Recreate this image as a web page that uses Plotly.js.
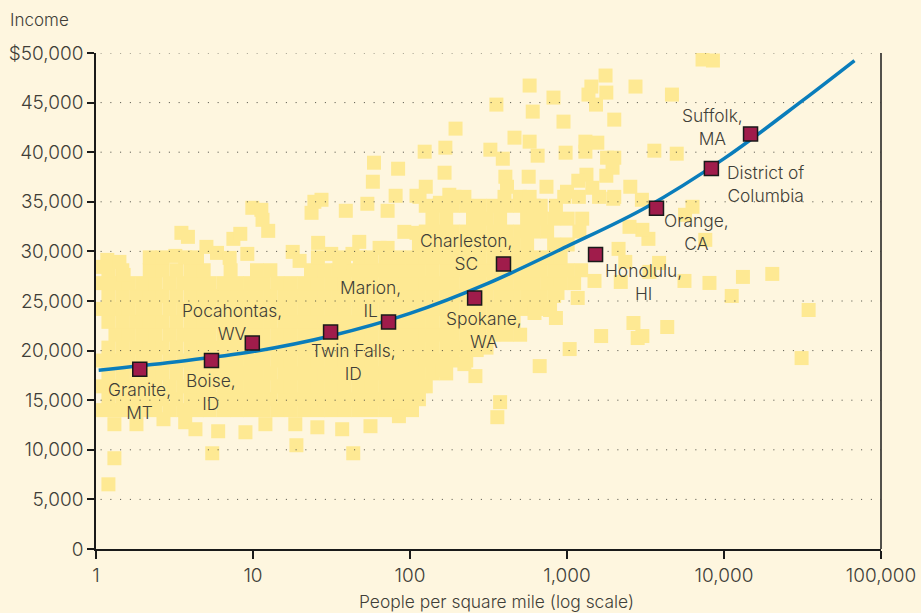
<!DOCTYPE html>
<html><head><meta charset="utf-8">
<script src="https://cdn.plot.ly/plotly-3.0.1.min.js"></script>
<style>html,body{margin:0;padding:0;background:#FEF6DF}#chart{width:921px;height:613px}</style>
</head><body><div id="chart"></div>
<script>
const xTickVals=[1,10,100,1000,10000,100000];
const xTickText=['1','10','100','1,000','10,000','100,000'];
const yTickVals=[0,5000,10000,15000,20000,25000,30000,35000,40000,45000,50000];
const yTickText=['0','5,000','10,000','15,000','20,000','25,000','30,000','35,000','40,000','45,000','$50,000'];

// Counties in the dense part of the cloud, grouped by income level: densities per income
const row14000=[1.1,1.33,1.62,1.98,2.4,2.95,3.6,4.4,5.3,6.5,7.9,9.6,11.7,14.3,17.4,21.2,25.9,31.5,38.4,46.8,57,69.5,84.7,103];
const row15100=[1.2,1.47,1.8,2.2,2.65,3.25,4,4.85,5.9,7.2,8.7,10.6,12.9,15.8,19.2,23.4,28.6,34.8,42.4,51.7,63,76.8,93.6,114];
const row16400=[1.1,1.33,1.62,1.98,2.4,2.95,3.6,4.4,5.3,6.5,7.9,9.6,11.7,14.3,17.4,21.2,25.9,31.5,38.4,46.8,57,69.5,84.7,103,126];
const row17700=[1.2,1.47,1.8,2.2,2.65,3.25,4,4.85,5.9,7.2,8.7,10.6,12.9,15.8,19.2,23.4,28.6,34.8,42.4,51.7,63,76.8,93.6,114,139,170];
const row19000=[1.1,1.33,1.62,1.98,2.4,2.95,3.6,4.4,5.3,6.5,7.9,9.6,11.7,14.3,17.4,21.2,25.9,31.5,38.4,46.8,57,69.5,84.7,103,126,153,187,228];
const row20300=[1.2,1.47,1.8,2.2,2.65,3.25,4,4.85,5.9,7.2,8.7,10.6,12.9,15.8,19.2,23.4,28.6,34.8,42.4,51.7,63,76.8,93.6,114,139,170,207,252,307];
const row21600=[1.33,1.62,1.98,2.4,2.95,3.6,4.4,5.3,6.5,7.9,9.6,11.7,14.3,17.4,21.2,25.9,31.5,38.4,46.8,57,69.5,84.7,103,126,153,187,228,278,339,413,503];
const row22900=[1.2,1.47,1.8,2.2,2.65,3.25,4,4.85,5.9,7.2,8.7,10.6,12.9,15.8,19.2,23.4,28.6,34.8,42.4,51.7,63,76.8,93.6,114,139,170,207,252,307,375,457];
const row24200=[1.1,1.33,1.62,1.98,2.4,2.95,3.6,4.4,5.3,6.5,7.9,9.6,11.7,14.3,17.4,21.2,25.9,31.5,38.4,46.8,57,69.5,84.7,103,126,153,187,228,278,339,413,503,613,747];
const row25500=[1.2,1.47,1.8,2.2,2.65,3.25,4,4.85,5.9,7.2,8.7,10.6,12.9,15.8,19.2,23.4,28.6,34.8,42.4,51.7,63,76.8,93.6,114,139,170,207,252,307,375,457,557,680,828];
const row26800=[1.1,1.33,1.62,1.98,2.4,2.95,3.6,4.4,5.3,6.5,7.9,9.6,11.7,14.3,17.4,21.2,25.9,31.5,38.4,46.8,57,69.5,84.7,103,126,153,187,228,278,339,413,503,613,747,911,1110];
const row28100=[1.2,1.47,2.2,2.65,3.25,4,4.85,7.2,10.6,12.9,23.4,28.6,34.8,42.4,51.7,63,76.8,93.6,114,139,170,207,252,307,375,457,557,680,828,1010,1230];
const row29400=[2.2,2.65,3.7,4.4,25.9,38,48,57,70,84.7,103,126,153,187,228,278,339,413,503,613,747,911];
const row30700=[114,139,170,207,252,307,375,457,557,828,1010];
const row32000=[126,153,187,228,278,339,413,503,613,747,1200];
const row33300=[139,170,252,307,375,557,680,828,1010,1250];
const row34600=[126,153,187,228,278,339,413,503,613,680,850];
const row35500=[115,192,222,400,500,578,960,1190,1600,2000];
const denseIncomes=[14000,15100,16400,17700,19000,20300,21600,22900,24200,25500,26800,28100,29400,30700,32000,33300,34600,35500];
const denseRows=[row14000,row15100,row16400,row17700,row19000,row20300,row21600,row22900,row24200,row25500,row26800,row28100,row29400,row30700,row32000,row33300,row34600,row35500];

// Counties along the edges of the cloud and the scattered ones
const edgeDensity=[1.31,1.81,2.69,3.7,4.3,6.0,8.95,12.0,18.6,25.7,37,56,85,118,162,1.31,1.2,5.5,18.9,43.5,
195,166,124,168,59,84,58,126,81,53.5,110,72,39,27.3,24.6,23.6,178,155,9.9,11.3,11.5,12.5,3.5,3.85,7.5,8.3,26,47.5,92,110,17.9,5.05,3.2,9.2,31.5,64,72,1.18,1.41,1.5,1.1,5.9,7.1,19.8,43,35.5,
7300,8500,1760,1430,1780,1370,1530,578,2730,4660,820,355,605,950,2000,463,578,1310,1560,325,390,650,980,3600,5000,1310,1800,2000,1950,1780,1330,1180,1450,405,570,415,740,2530,1000,1970,3000,6300,5650,7600,3300,3020,2500,2130,2350,3860,2200,3350,5600,8080,13200,20300,11200,34600,621,780,850,2650,4350,1650,2820,3020,1040,31200,670,261,222,266,375,360,1497,1170,870];
const edgeIncome=[12580,12580,13085,12780,12075,11870,11770,12580,12580,12270,12075,12380,13390,16420,18030,9150,6520,9650,10460,9650,
42375,37931,40052,40456,38941,38335,37022,36517,35608,34800,35608,34093,34093,35204,35002,33891,35709,34900,34396,34194,33184,32073,31871,31467,31265,31770,30861,30962,31972,31871,29952,30457,29548,29750,29750,30356,30356,29144,28942,27629,28437,29851,29346,29044,29750,28841,
49344,49243,47728,46617,46011,45809,44799,46718,46617,45809,45506,44799,44092,43082,43284,41466,41062,41062,40961,40254,39345,39648,39951,40153,39850,40052,39446,39446,38436,37628,37729,37123,36416,37527,37527,36517,36517,36517,36012,35305,35204,34497,33689,31164,31265,32174,32477,30255,28942,28841,26922,27932,27023,26821,27427,27730,25508,24094,23791,24094,23286,22781,22377,21468,21266,21468,20155,19246,18438,17428,18640,20054,14802,13287,27023,25306,25811];

// Trend curve
const trendDensity=[1.04,3.16,10,31.6,100,316,1000,3162,10000,31600,67800];
const trendIncome=[18030,18850,19900,21500,23750,26800,30500,34400,39350,45200,49240];

// Named counties
const countyDensity=[1.9,5.44,9.9,31.2,73,258,394,1520,3715,8310,14760];
const countyIncome=[18130,18990,20760,21870,22880,25300,28740,29680,34360,38360,41840];
const countyLabels=['Granite,<br>MT','Boise,<br>ID','Pocahontas,<br>WV','Twin Falls,<br>ID','Marion,<br>IL','Spokane,<br>WA','Charleston,<br>SC','Honolulu,<br>HI','Orange,<br>CA','District of<br>Columbia','Suffolk,<br>MA'];
const labelDensity=[1.89,5.44,7.3,43.5,56,298,228,3050,6650,18500,8450];
const labelIncome=[14900,15812,22882,18842,25205,22074,29952,26922,31920,36820,42577];

const FONT='Inter, "Open Sans", sans-serif';
const TEXT='#3f3e38';
const BG='#FEF6DF';

const denseX=[],denseY=[];
denseRows.forEach((r,i)=>r.forEach(d=>{denseX.push(d);denseY.push(denseIncomes[i]);}));

const gridX=[],gridY=[];
yTickVals.filter(v=>v>0).forEach(v=>{gridX.push(1.07,100000,null);gridY.push(v,v,null);});

const traces=[
 {type:'scatter',mode:'markers',x:denseX.concat(edgeDensity),y:denseY.concat(edgeIncome),
  marker:{symbol:'square',size:14,color:'#FEE993',line:{width:0}},hoverinfo:'skip',showlegend:false},
 {type:'scatter',mode:'lines',x:gridX,y:gridY,line:{color:'#4a4a40',width:1,dash:'1px,8.75px'},hoverinfo:'skip',showlegend:false,connectgaps:false},
 {type:'scatter',mode:'lines',x:trendDensity,y:trendIncome,line:{color:'#0A7DBB',width:3.5,shape:'spline',smoothing:1},hoverinfo:'skip',showlegend:false},
 {type:'scatter',mode:'markers',x:countyDensity,y:countyIncome,
  marker:{symbol:'square',size:14,color:'#A01C4B',line:{color:'#1a1a1a',width:1.5}},showlegend:false}
];

const labelFont={family:FONT,size:17.4,color:TEXT,weight:300};
const annotations=countyLabels.map((t,i)=>({
 x:Math.log10(labelDensity[i]),y:labelIncome[i],xref:'x',yref:'y',text:t,showarrow:false,
 xanchor:'center',yanchor:'middle',align:'center',font:labelFont}));
annotations.push({xref:'paper',yref:'paper',x:(8-96)/785,y:(549-20)/496,text:'Income',showarrow:false,xanchor:'left',yanchor:'middle',font:{family:FONT,size:17,color:TEXT,weight:300}});
annotations.push({xref:'paper',yref:'paper',x:(496-96)/785,y:(549-601)/496,text:'People per square mile (log scale)',showarrow:false,xanchor:'center',yanchor:'middle',font:labelFont});

const tickFont={family:FONT,size:19,color:TEXT,weight:300};
const layout={
 width:921,height:613,paper_bgcolor:BG,plot_bgcolor:BG,showlegend:false,
 margin:{l:96,r:40,t:53,b:64,pad:0},
 xaxis:{type:'log',range:[0,5],tickmode:'array',tickvals:xTickVals,ticktext:xTickText,ticks:'outside',ticklen:8,tickwidth:1.5,tickcolor:'#1a1a1a',
  showline:true,linecolor:'#1a1a1a',linewidth:1.5,showgrid:false,zeroline:false,tickfont:tickFont,tickangle:0},
 yaxis:{range:[0,50000],tickmode:'array',tickvals:yTickVals,ticktext:yTickText,ticks:'outside',ticklen:7,tickwidth:1.5,tickcolor:'#1a1a1a',
  showline:true,linecolor:'#1a1a1a',linewidth:1.5,showgrid:false,zeroline:false,tickfont:tickFont},
 shapes:[{type:'line',xref:'paper',yref:'paper',x0:1,x1:1,y0:0,y1:1,line:{color:'#1a1a1a',width:1.5}}],
 annotations:annotations,hovermode:false
};
Plotly.newPlot('chart',traces,layout,{displayModeBar:false,responsive:false});
</script></body></html>
